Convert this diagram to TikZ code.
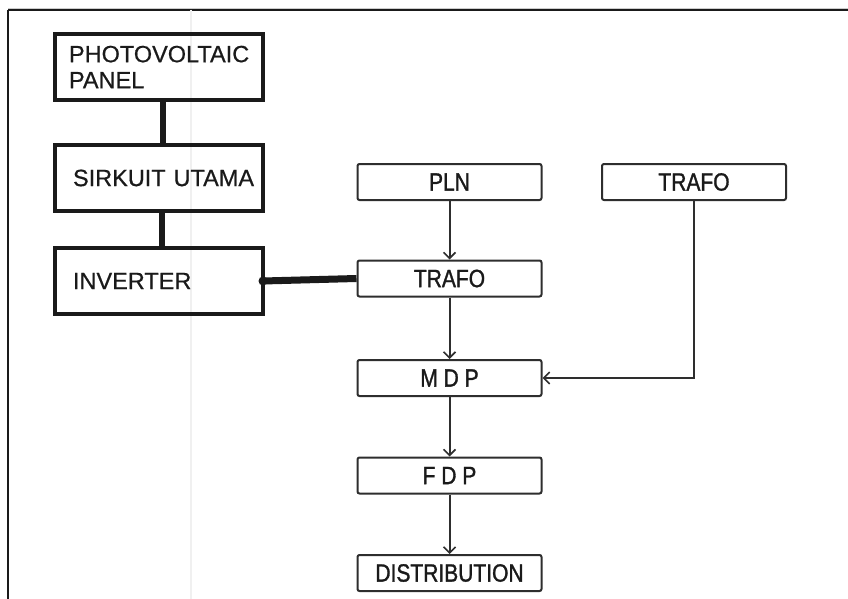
\documentclass[tikz,border=0pt]{standalone}
\usepackage{fontspec}
\setmainfont{Liberation Sans}
\newfontfamily\narrowfont[FakeStretch=0.84,FakeBold=1.2]{Liberation Sans}
\newfontfamily\leftfont[FakeBold=0.6]{Liberation Sans}
\usetikzlibrary{arrows.meta}
\definecolor{ink}{HTML}{1A1A1A}
\definecolor{ink2}{HTML}{2E2E2E}
\tikzset{
  bigbox/.style={draw=ink, line width=4pt, minimum width=208pt, minimum height=66pt,
    text width=196pt, align=left, inner sep=0pt, font=\leftfont\fontsize{23.5}{27}\selectfont, text=ink},
  smallbox/.style={draw=ink2, line width=2pt, rounded corners=2pt, minimum width=184pt,
    minimum height=36pt, inner sep=0pt, font=\narrowfont\fontsize{25}{27}\selectfont, text=ink},
  thick link/.style={draw=ink, line width=6pt},
  flow/.style={draw=ink2, line width=2pt, -{Straight Barb[length=6pt,width=12pt,line width=1.6pt]}},
}
\begin{document}
\begin{tikzpicture}[x=1pt,y=-1pt]
\useasboundingbox (0,0) rectangle (848,599);
\fill[white] (0,0) rectangle (848,599);
% frame
\draw[gray!40, line width=1pt] (8,8.5) -- (848,8.5);
\draw[ink, line width=2pt] (8,10.5) -- (848,10.5);
\draw[ink, line width=2pt] (8,10) -- (8,599);
\draw[black!6, line width=2pt] (191,10) -- (191,599);
% left column
\node[bigbox] (pv)  at (159,67)  {\hspace*{8pt}PHOTOVOLTAIC\\[-1pt]\hspace*{8pt}PANEL};
\node[bigbox] (sk)  at (159,178) {\hspace*{12pt}SIRKUIT UTAMA};
\node[bigbox] (inv) at (159,281) {\hspace*{12pt}INVERTER};
% right column
\node[smallbox] (pln)  at (449.5,182) {PLN};
\node[smallbox] (tr2)  at (694,182)   {TRAFO};
\node[smallbox] (tr1)  at (449.5,278.5) {TRAFO};
\node[smallbox] (mdp)  at (449.5,378) {M D P};
\node[smallbox] (fdp)  at (449.5,475.5) {F D P};
\node[smallbox] (dist) at (449.5,573) {DISTRIBUTION};
% thick links
\draw[thick link] (pv.south) ++(4,0) coordinate (a1) -- (a1 |- sk.north);
\draw[thick link] (sk.south) ++(3,0) coordinate (a2) -- (a2 |- inv.north);
\draw[ink, line width=7pt] ([xshift=-2pt]inv.east) -- (tr1.west);
\fill[ink] ([xshift=-2pt]inv.east) circle (4.5pt);
% arrows
\draw[flow] (pln.south) -- (tr1.north);
\draw[flow] (tr1.south) -- (mdp.north);
\draw[flow] (mdp.south) -- (fdp.north);
\draw[flow] (fdp.south) -- (dist.north);
\draw[flow] (tr2.south) |- (mdp.east);
\end{tikzpicture}
\end{document}
